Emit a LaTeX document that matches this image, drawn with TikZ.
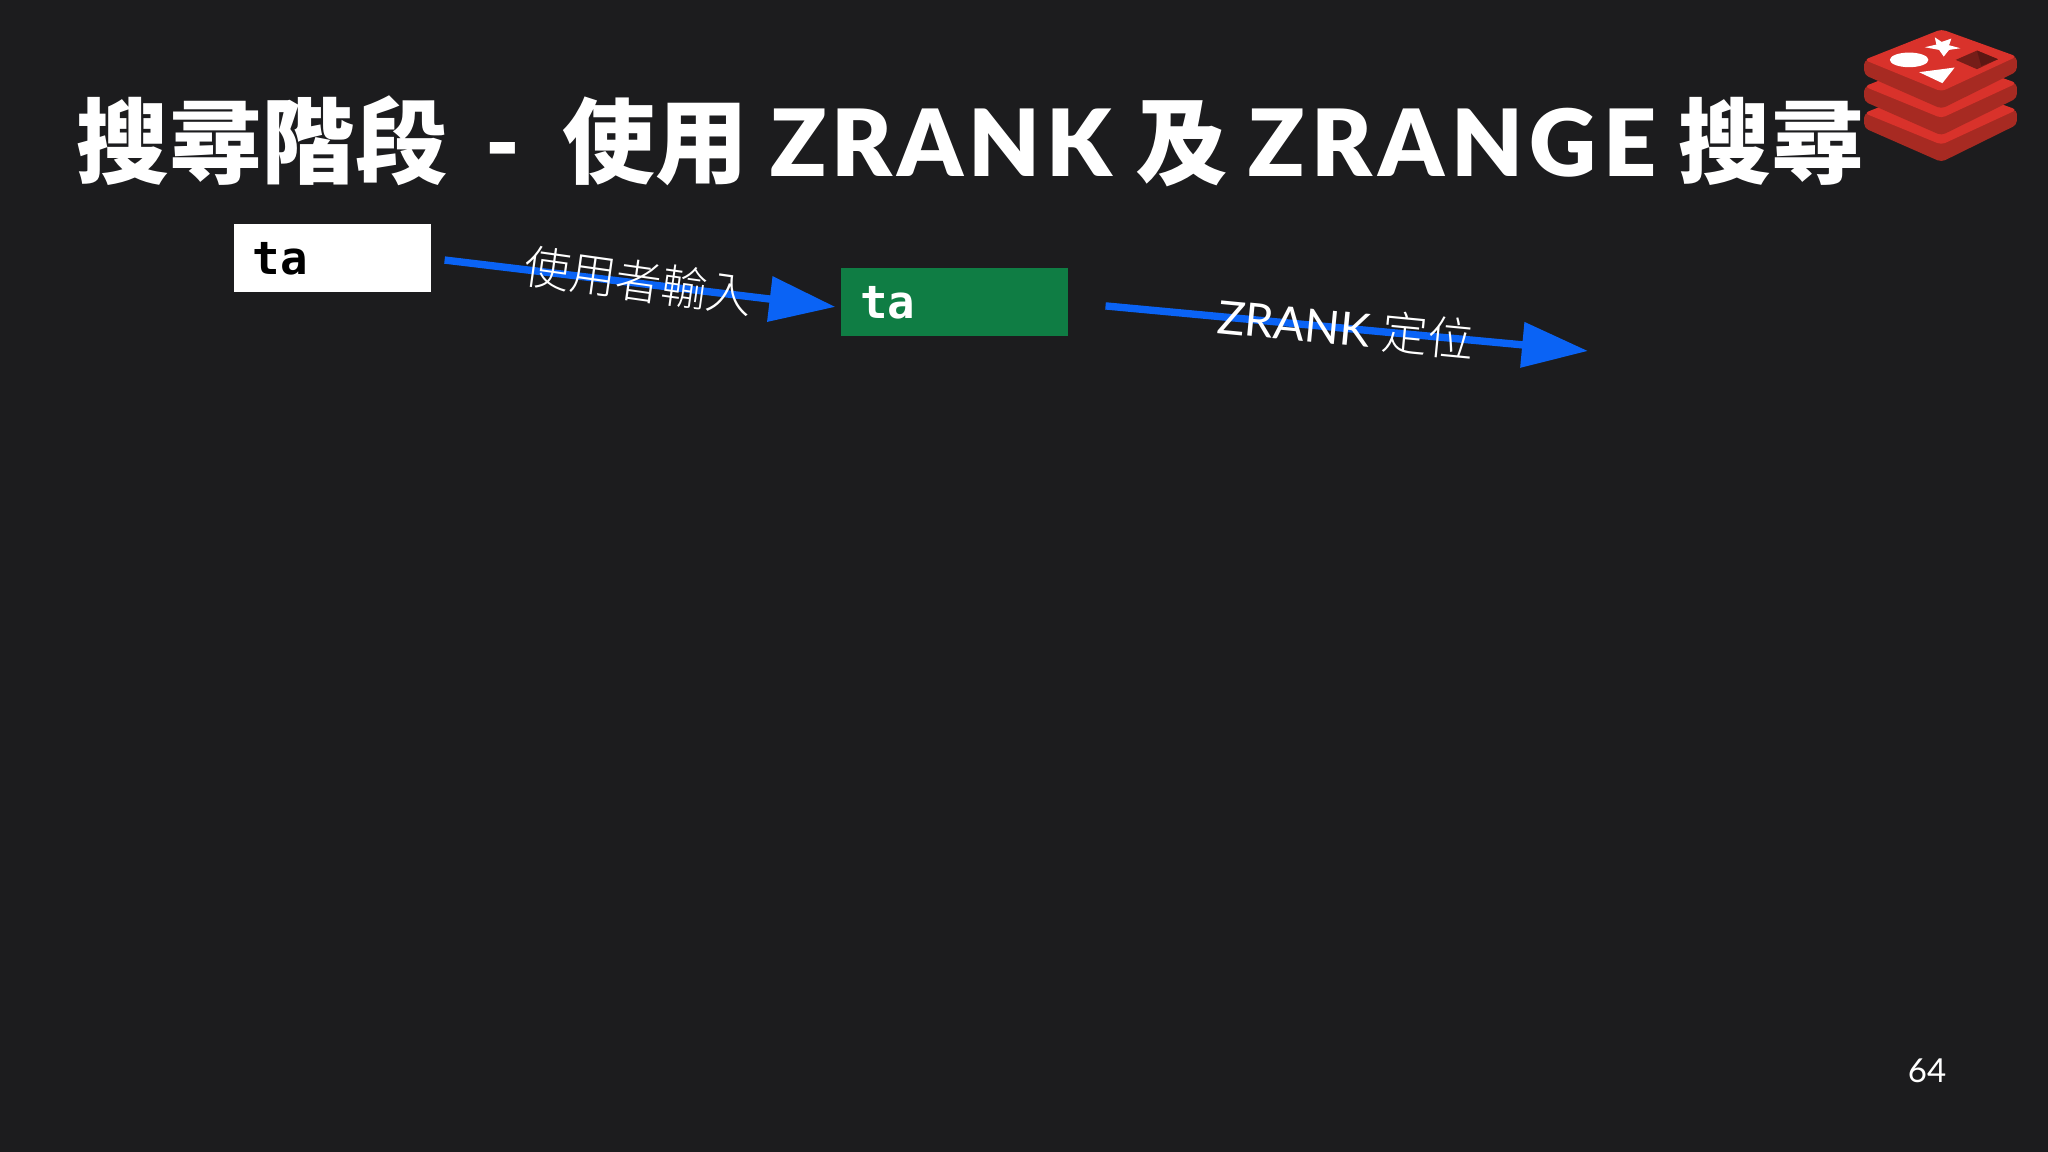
\documentclass[tikz,border=0pt]{standalone}
\usepackage{fontspec}
\setmainfont{Lato}
\setmonofont{DejaVu Sans Mono}
\newfontfamily\cjk{Noto Sans CJK TC}
\newfontfamily\cjklight{Noto Sans CJK TC Light}
\newfontfamily\titlefont[LetterSpace=5.5]{Lato Black}
\newfontfamily\titlewide[LetterSpace=7]{Lato Black}
\usepackage{xcolor}
\usetikzlibrary{arrows.meta, positioning}
\definecolor{slidebg}{HTML}{1C1C1E}
\definecolor{arrowblue}{HTML}{0A63F5}
\definecolor{boxgreen}{HTML}{0F7D44}
\definecolor{logotop}{HTML}{D9322B}
\definecolor{logoside}{HTML}{A72A22}
\tikzset{
    searchbox/.style={minimum height=0.68cm, inner xsep=0.19cm, inner ysep=0pt, align=left, font=\ttfamily\bfseries\fontsize{13}{14}\selectfont},
    flowarrow/.style={draw=arrowblue, line width=2.1pt, -{Triangle[length=0.66cm, width=0.44cm]}},
    flowlabel/.style={text=white, inner sep=0pt, font=\fontsize{13.1}{15}\selectfont},
    logoface/.style={fill=logotop, rounded corners=1.2pt},
    logoedge/.style={fill=logoside, rounded corners=1.2pt}
}
\begin{document}
\begin{tikzpicture}
    \useasboundingbox[fill=slidebg] (0,0) rectangle (20.48,11.52);
    % Titulo y numero de pagina
    \node[anchor=base west, inner sep=0pt, text=white, font=\fontsize{26.4}{30}\selectfont] (slidetitle) at (0.76,9.75) {{\cjk\bfseries 搜尋階段}\hspace{0.38cm}{\titlefont -}\hspace{0.42cm}{\cjk\bfseries 使用}\hspace{0.22cm}{\titlefont ZRANK}\hspace{0.24cm}{\cjk\bfseries 及}\hspace{0.2cm}{\titlewide ZRANGE}\hspace{0.22cm}{\cjk\bfseries 搜尋}};
    \node[text=white, inner sep=0pt, font=\fontsize{9.4}{12}\selectfont] (pagenum) at (19.27,0.81) {64};
    % Cajas de busqueda
    \node[searchbox, fill=white, text=black, minimum width=1.97cm, text width=1.59cm] (inputbox) at (3.325,8.935) {\raisebox{-0.025cm}{ta}};
    \node[searchbox, fill=boxgreen, text=white, minimum width=2.27cm, text width=1.89cm] (zrankbox) at (9.545,8.495) {\raisebox{-0.025cm}{ta}};
    \coordinate (rankend) at (15.88,8.01);
    % Flechas
    \draw[flowarrow, shorten <=0.13cm, shorten >=0.05cm] (inputbox.east) -- ([yshift=-0.05cm]zrankbox.west);
    \draw[flowarrow, shorten <=0.37cm, shorten >=0pt] (zrankbox.east) -- (rankend);
    \node[flowlabel, rotate=-8] (inputlabel) at (6.39,8.71) {\cjklight 使用者輸入};
    \node[flowlabel, rotate=-5.5] (ranklabel) at (13.46,8.24) {ZRANK {\cjklight 定位}};
    % Logo
    \begin{scope}[shift={(18.2,11.42)}, x=0.00333cm, y=-0.00333cm]
        \foreach \dy in {160,80,0} {
            \fill[logoedge] (133,150+\dy) -- (133,195+\dy) -- (365,297+\dy) -- (592,185+\dy) -- (592,140+\dy) -- cycle;
            \fill[logoface] (133,150+\dy) -- (365,58+\dy) -- (592,140+\dy) -- (365,245+\dy) -- cycle;
        }
        \fill[white] (268,150) ellipse [x radius=58, y radius=22];
        \fill[white] (345,82) -- (366,96) -- (395,86) -- (388,106) -- (422,115) -- (388,120) -- (372,140) -- (358,120) -- (315,112) -- (350,104) -- cycle;
        \fill[white] (298,187) -- (405,173) -- (368,220) -- cycle;
        \fill[logoside!70!black] (408,150) -- (472,122) -- (535,148) -- (472,178) -- cycle;
        \fill[logoside!55!black] (472,122) -- (535,148) -- (485,168) -- cycle;
    \end{scope}
\end{tikzpicture}
\end{document}
